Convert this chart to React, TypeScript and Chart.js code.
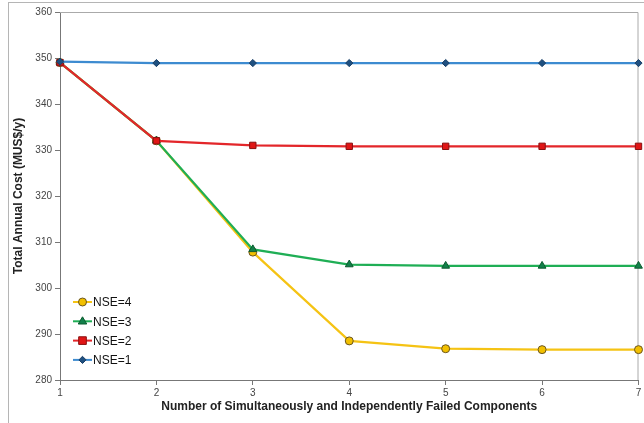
import React, { useEffect, useRef } from "react";
import { Chart, registerables } from "chart.js";

Chart.register(...registerables);

const xValues = [1, 2, 3, 4, 5, 6, 7];
const nse1 = [349.2, 348.9, 348.9, 348.9, 348.9, 348.9, 348.9];
const nse2 = [349.0, 332.0, 331.0, 330.8, 330.8, 330.8, 330.8];
const nse3 = [349.0, 332.0, 308.4, 305.1, 304.8, 304.8, 304.8];
const nse4 = [349.0, 332.0, 307.8, 288.5, 286.8, 286.6, 286.6];
const seriesLabels = ["NSE=1", "NSE=2", "NSE=3", "NSE=4"];
const xTitle = "Number of Simultaneously and Independently Failed Components";
const yTitle = "Total Annual Cost (MUS$/y)";

const FONT = "'Liberation Sans', Arial, sans-serif";

function drawMarker(ctx: CanvasRenderingContext2D, style: string, r: number, x: number, y: number) {
  ctx.beginPath();
  if (style === "circle") {
    ctx.arc(x, y, r, 0, Math.PI * 2);
  } else if (style === "rect") {
    ctx.rect(x - r * 0.85, y - r * 0.85, r * 1.7, r * 1.7);
  } else if (style === "rectRot") {
    ctx.moveTo(x, y - r);
    ctx.lineTo(x + r, y);
    ctx.lineTo(x, y + r);
    ctx.lineTo(x - r, y);
    ctx.closePath();
  } else if (style === "triangle") {
    ctx.moveTo(x, y - r);
    ctx.lineTo(x + r * 0.95, y + r * 0.6);
    ctx.lineTo(x - r * 0.95, y + r * 0.6);
    ctx.closePath();
  }
  ctx.fill();
  ctx.stroke();
}

const legendPlugin = {
  id: "insideLegend",
  afterDatasetsDraw(chart: any) {
    const ctx = chart.ctx;
    const area = chart.chartArea;
    const items = [3, 2, 1, 0];
    const x0 = area.left + 13;
    const lineLen = 19;
    const yStart = area.bottom - 78;
    const step = 19.3;
    ctx.save();
    items.forEach((di, i) => {
      const ds = chart.data.datasets[di];
      const y = yStart + i * step;
      ctx.strokeStyle = ds.borderColor;
      ctx.lineWidth = 2;
      ctx.beginPath();
      ctx.moveTo(x0, y);
      ctx.lineTo(x0 + lineLen, y);
      ctx.stroke();
      ctx.fillStyle = ds.pointBackgroundColor;
      ctx.strokeStyle = ds.pointBorderColor;
      ctx.lineWidth = 1;
      drawMarker(ctx, ds.pointStyle, ds.pointRadius, x0 + lineLen / 2, y);
      ctx.fillStyle = "#111";
      ctx.font = `12px ${FONT}`;
      ctx.textAlign = "left";
      ctx.textBaseline = "middle";
      ctx.fillText(ds.label, x0 + lineLen + 1, y + 1);
    });
    ctx.restore();
  },
};

export default function App() {
  const ref = useRef<HTMLCanvasElement>(null);
  useEffect(() => {
    if (!ref.current) return;
    const mk = (
      label: string,
      data: number[],
      line: string,
      fill: string,
      border: string,
      style: string,
      radius: number
    ) => ({
      label,
      data: data.map((v, i) => ({ x: xValues[i], y: v })),
      borderColor: line,
      backgroundColor: fill,
      borderWidth: 2.2,
      pointBackgroundColor: fill,
      pointBorderColor: border,
      pointBorderWidth: 1,
      pointStyle: style,
      pointRadius: radius,
      tension: 0,
      clip: false as any,
    });
    const chart = new Chart(ref.current, {
      type: "line",
      data: {
        datasets: [
          mk(seriesLabels[0], nse1, "#3d8bd0", "#1f5080", "#1a3f66", "rectRot", 3.6),
          mk(seriesLabels[1], nse2, "#e3262a", "#e01515", "#8a1010", "rect", 4.5),
          mk(seriesLabels[2], nse3, "#1fae55", "#12804a", "#0b5a2e", "triangle", 4.5),
          mk(seriesLabels[3], nse4, "#f5c314", "#f2c000", "#6a5520", "circle", 4),
        ],
      },
      options: {
        responsive: false,
        animation: false,
        layout: { padding: { top: 12, right: 3, left: 0, bottom: 0 } },
        plugins: { legend: { display: false }, tooltip: { enabled: false } },
        scales: {
          x: {
            type: "linear",
            min: 1,
            max: 7,
            ticks: {
              stepSize: 1,
              color: "#444",
              font: { family: FONT, size: 10 },
              padding: 2,
            },
            grid: {
              display: true,
              drawOnChartArea: false,
              drawTicks: true,
              tickLength: 5,
              color: "#777",
            },
            border: { display: true, color: "#777", width: 1 },
            title: {
              display: true,
              text: xTitle,
              color: "#222",
              font: { family: FONT, size: 12, weight: "bold" },
              padding: { top: 2, bottom: 9 },
            },
            afterFit: (s: any) => {
              s.height = 43;
            },
          },
          y: {
            min: 280,
            max: 360,
            ticks: {
              stepSize: 10,
              color: "#444",
              font: { family: FONT, size: 10 },
              padding: 3,
            },
            grid: {
              display: true,
              drawOnChartArea: false,
              drawTicks: true,
              tickLength: 5,
              color: "#777",
            },
            border: { display: true, color: "#777", width: 1 },
            title: {
              display: true,
              text: yTitle,
              color: "#222",
              font: { family: FONT, size: 12, weight: "bold" },
              padding: { top: 11, bottom: 0 },
            },
            afterFit: (s: any) => {
              s.width = 60;
            },
          },
        },
      },
      plugins: [
        {
          id: "frame",
          beforeDatasetsDraw(c: any) {
            const { ctx, chartArea: a } = c;
            ctx.save();
            ctx.strokeStyle = "#aaa";
            ctx.lineWidth = 1;
            ctx.beginPath();
            ctx.moveTo(a.left, a.top + 0.5);
            ctx.lineTo(a.right - 0.5, a.top + 0.5);
            ctx.lineTo(a.right - 0.5, a.bottom);
            ctx.stroke();
            ctx.restore();
          },
        },
        legendPlugin,
      ],
    });
    return () => {
      chart.destroy();
    };
  }, []);
  return (
    <div
      style={{
        position: "fixed",
        left: 0,
        top: 0,
        width: 644,
        height: 423,
        overflow: "hidden",
        background: "#fff",
      }}
    >
      <div
        style={{
          position: "absolute",
          left: 8,
          top: 2,
          width: 800,
          height: 600,
          border: "1px solid #b5b5b5",
        }}
      />
      <canvas
        ref={ref}
        width={644}
        height={423}
        style={{ position: "absolute", left: 0, top: 0 }}
      />
    </div>
  );
}
